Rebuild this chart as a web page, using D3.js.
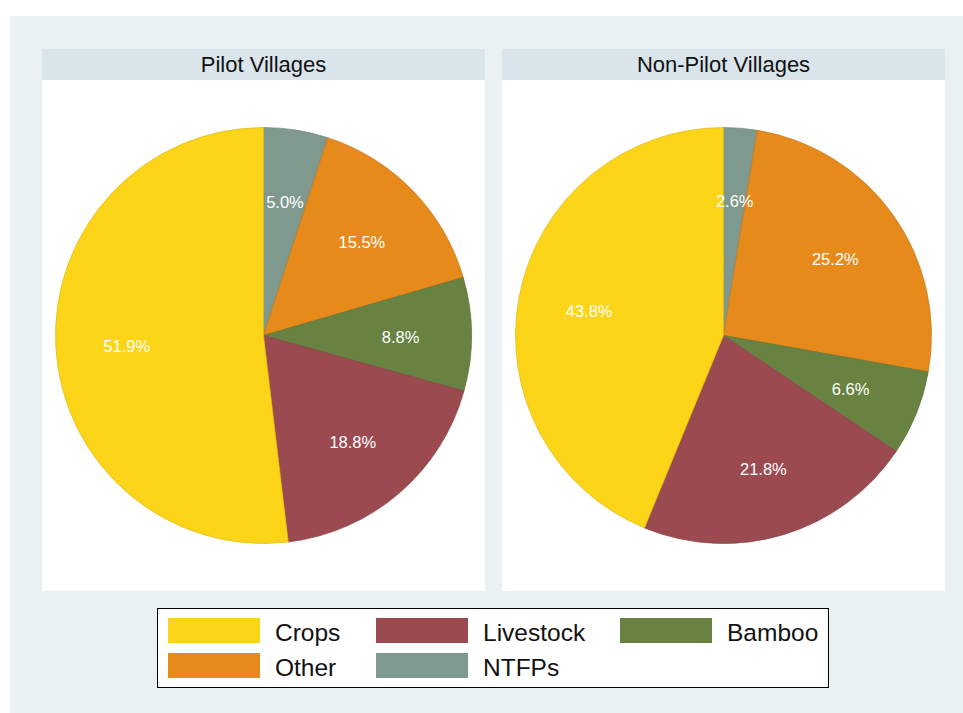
<!DOCTYPE html>
<html>
<head>
<meta charset="utf-8">
<script src="https://cdn.jsdelivr.net/npm/d3@7"></script>
<style>
  body { margin: 0; background: #fff; }
  svg { display: block; font-family: "Liberation Sans", Arial, sans-serif; }
</style>
</head>
<body>
<div id="chart"></div>
<script>
// slices, clockwise from 12 o'clock
var categories = ['NTFPs', 'Other', 'Bamboo', 'Livestock', 'Crops'];
var pilotValues = [5.0, 15.5, 8.8, 18.8, 51.9];
var nonPilotValues = [2.6, 25.2, 6.6, 21.8, 43.8];
var panelTitles = ['Pilot Villages', 'Non-Pilot Villages'];
var legendOrder = ['Crops', 'Livestock', 'Bamboo', 'Other', 'NTFPs'];
var sliceColors = ['#7f998e', '#e68a1b', '#688341', '#9b4a50', '#fdd518'];

var WIDTH = 963;
var HEIGHT = 713;
var RADIUS = 208;
var LABEL_RADIUS = 137;

var color = d3.scaleOrdinal().domain(categories).range(sliceColors);

var svg = d3.select('#chart').append('svg')
    .attr('width', WIDTH)
    .attr('height', HEIGHT);

// outer graph region
svg.append('rect')
    .attr('x', 10).attr('y', 16)
    .attr('width', WIDTH - 10).attr('height', HEIGHT - 16)
    .style('fill', '#e9f1f3');

var panelX = d3.scaleBand()
    .domain(d3.range(panelTitles.length))
    .range([42, 945])
    .paddingInner(17 / 460);

var panels = [pilotValues, nonPilotValues];
var pie = d3.pie().sort(null).value(function (d) { return d.value; });
var arc = d3.arc().innerRadius(0).outerRadius(RADIUS);
var labelArc = d3.arc().innerRadius(LABEL_RADIUS).outerRadius(LABEL_RADIUS);

panels.forEach(function (values, i) {
    var x0 = panelX(i);
    var w = panelX.bandwidth();
    var g = svg.append('g').attr('transform', 'translate(' + x0 + ',0)');

    // title strip
    g.append('rect')
        .attr('x', 0).attr('y', 49)
        .attr('width', w).attr('height', 31)
        .style('fill', '#d9e5eb');
    g.append('text')
        .attr('x', w / 2).attr('y', 72)
        .style('text-anchor', 'middle')
        .style('font-size', '22px')
        .style('fill', '#111')
        .text(panelTitles[i]);

    // plot area
    g.append('rect')
        .attr('x', 0).attr('y', 80)
        .attr('width', w).attr('height', 511)
        .style('fill', '#fff');

    var data = categories.map(function (c, k) { return { key: c, value: values[k] }; });
    var arcs = pie(data);

    var pieG = g.append('g')
        .attr('transform', 'translate(' + (w / 2) + ',335.5)');

    pieG.selectAll('path')
        .data(arcs)
        .enter()
        .append('path')
        .attr('d', arc)
        .style('fill', function (d) { return color(d.data.key); })
        .style('stroke', function (d) { return d3.color(color(d.data.key)).darker(0.4); })
        .style('stroke-width', 0.7);

    pieG.selectAll('text')
        .data(arcs)
        .enter()
        .append('text')
        .attr('transform', function (d) { return 'translate(' + labelArc.centroid(d) + ')'; })
        .attr('dy', '0.5em')
        .style('text-anchor', 'middle')
        .style('font-size', '16.5px')
        .style('fill', '#fff')
        .text(function (d) { return d.data.value.toFixed(1) + '%'; });
});

// legend
var legend = svg.append('g');
legend.append('rect')
    .attr('x', 157.5).attr('y', 608.5)
    .attr('width', 671).attr('height', 79)
    .style('fill', '#fff')
    .style('stroke', '#000')
    .style('stroke-width', 1);

var colX = d3.scaleOrdinal().domain([0, 1, 2]).range([168, 376, 620]);
var rowY = d3.scaleOrdinal().domain([0, 1]).range([618, 653]);

var items = legend.selectAll('g.item')
    .data(legendOrder)
    .enter()
    .append('g')
    .attr('class', 'item')
    .attr('transform', function (d, k) {
        return 'translate(' + colX(k % 3) + ',' + rowY(Math.floor(k / 3)) + ')';
    });

items.append('rect')
    .attr('width', 92)
    .attr('height', 25)
    .style('fill', function (d) { return color(d); });

items.append('text')
    .attr('x', 107)
    .attr('y', 12.5)
    .attr('dy', '0.42em')
    .style('font-size', '24.5px')
    .style('fill', '#111')
    .text(function (d) { return d; });
</script>
</body>
</html>
